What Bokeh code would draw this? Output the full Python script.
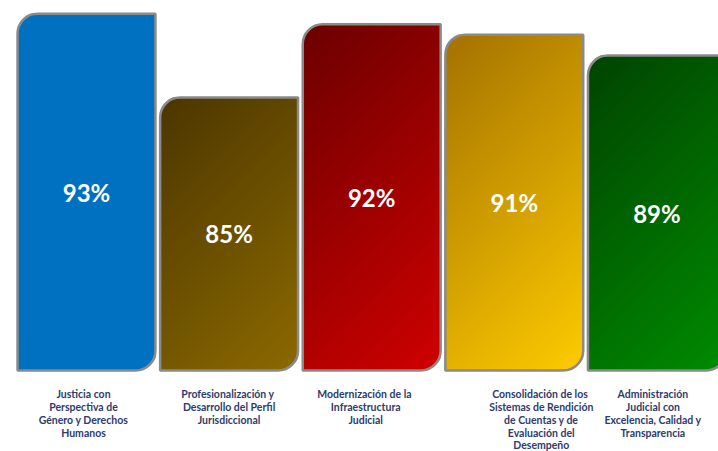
import numpy as np
from bokeh.plotting import figure
from bokeh.models import ColumnDataSource, Range1d
from bokeh.core.properties import value
from bokeh.embed import file_html
from bokeh.resources import INLINE

# ---- data ----
categories = [
    "Justicia con\nPerspectiva de\nGénero y Derechos\nHumanos",
    "Profesionalización  y\nDesarrollo del Perfil\nJurisdiccional",
    "Modernización  de la\nInfraestructura\nJudicial",
    "Consolidación  de los\nSistemas de Rendición\nde Cuentas y de\nEvaluación del\nDesempeño",
    "Administración\nJudicial con\nExcelencia, Calidad y\nTransparencia",
]
values = [93, 85, 92, 91, 89]
pct_labels = ["93%", "85%", "92%", "91%", "89%"]
color_start = ["#0070c0", "#4c3600", "#6c0000", "#a47200", "#004400"]
color_end = ["#0070c0", "#8c6a00", "#d00000", "#ffcc00", "#008c00"]

# ---- layout ----
W_FIG, H_FIG = 718, 451
X0, X1 = -0.603, 4.432
Y0, Y1 = 51.2, 94.26
BASE = 58.94
BAR_W = 0.967
RADIUS = 20
label_dx = [-3, 0, -6, 27, -4]

p = figure(width=W_FIG, height=H_FIG, x_range=Range1d(X0, X1), y_range=Range1d(Y0, Y1),
           x_axis_type=None, y_axis_type=None, toolbar_location=None,
           output_backend="svg", min_border=0)
p.grid.visible = False
p.outline_line_color = None
p.background_fill_color = "white"
p.border_fill_color = "white"

sx = W_FIG / (X1 - X0)
sy = H_FIG / (Y1 - Y0)


def hex2rgb(h):
    h = h.lstrip("#")
    return np.array([int(h[i:i + 2], 16) for i in (0, 2, 4)], dtype=float)


xs = list(range(len(values)))
for i, v in enumerate(values):
    W = int(round(BAR_W * sx))
    H = int(round((v - BASE) * sy))
    cx = np.arange(W)[None, :] + 0.5
    cy = np.arange(H)[:, None] + 0.5
    t = (cx + cy) / (W + H)
    c0 = hex2rgb(color_start[i])
    c1 = hex2rgb(color_end[i])
    rgb = c0[None, None, :] + (c1 - c0)[None, None, :] * t[:, :, None]
    alpha = np.ones((H, W))
    d = np.sqrt((cx - RADIUS) ** 2 + (cy - RADIUS) ** 2)
    m = (cx < RADIUS) & (cy < RADIUS)
    alpha = np.where(m, np.clip(RADIUS - d + 0.5, 0, 1), alpha)
    d2 = np.sqrt((cx - (W - RADIUS)) ** 2 + (cy - (H - RADIUS)) ** 2)
    m2 = (cx > W - RADIUS) & (cy > H - RADIUS)
    alpha = np.where(m2, np.clip(RADIUS - d2 + 0.5, 0, 1), alpha)
    img = np.empty((H, W), dtype=np.uint32)
    view = img.view(dtype=np.uint8).reshape((H, W, 4))
    view[:, :, 0] = rgb[:, :, 0].astype(np.uint8)
    view[:, :, 1] = rgb[:, :, 1].astype(np.uint8)
    view[:, :, 2] = rgb[:, :, 2].astype(np.uint8)
    view[:, :, 3] = (alpha * 255).astype(np.uint8)
    img = img[::-1]
    p.image_rgba(image=[img], x=i - BAR_W / 2, y=BASE, dw=BAR_W, dh=v - BASE)

src = ColumnDataSource(dict(
    left=[x - BAR_W / 2 for x in xs],
    right=[x + BAR_W / 2 for x in xs],
    top=values,
    bottom=[BASE] * len(values),
    x=xs,
    mid=[(BASE + v) / 2 for v in values],
    pct=pct_labels,
    cat=categories,
    dx=label_dx,
))

p.quad(left="left", right="right", top="top", bottom="bottom", source=src,
       fill_alpha=0, line_color="#8a8a8a", line_width=2.5,
       border_radius=(RADIUS, 0, RADIUS, 0))

p.text(x="x", y="mid", text="pct", source=src, text_align="center",
       text_baseline="middle", text_color="white", text_font=value("Lato"),
       text_font_style="bold", text_font_size="24px", y_offset=0)

p.text(x="x", y="bottom", text="cat", source=src, x_offset="dx", y_offset=18,
       text_align="center", text_baseline="top", text_color="#2e3b6e",
       text_font=value("Lato"), text_font_style="bold", text_font_size="10.5px",
       text_line_height=1.06)

open("out.html", "w").write(file_html(p, INLINE))
